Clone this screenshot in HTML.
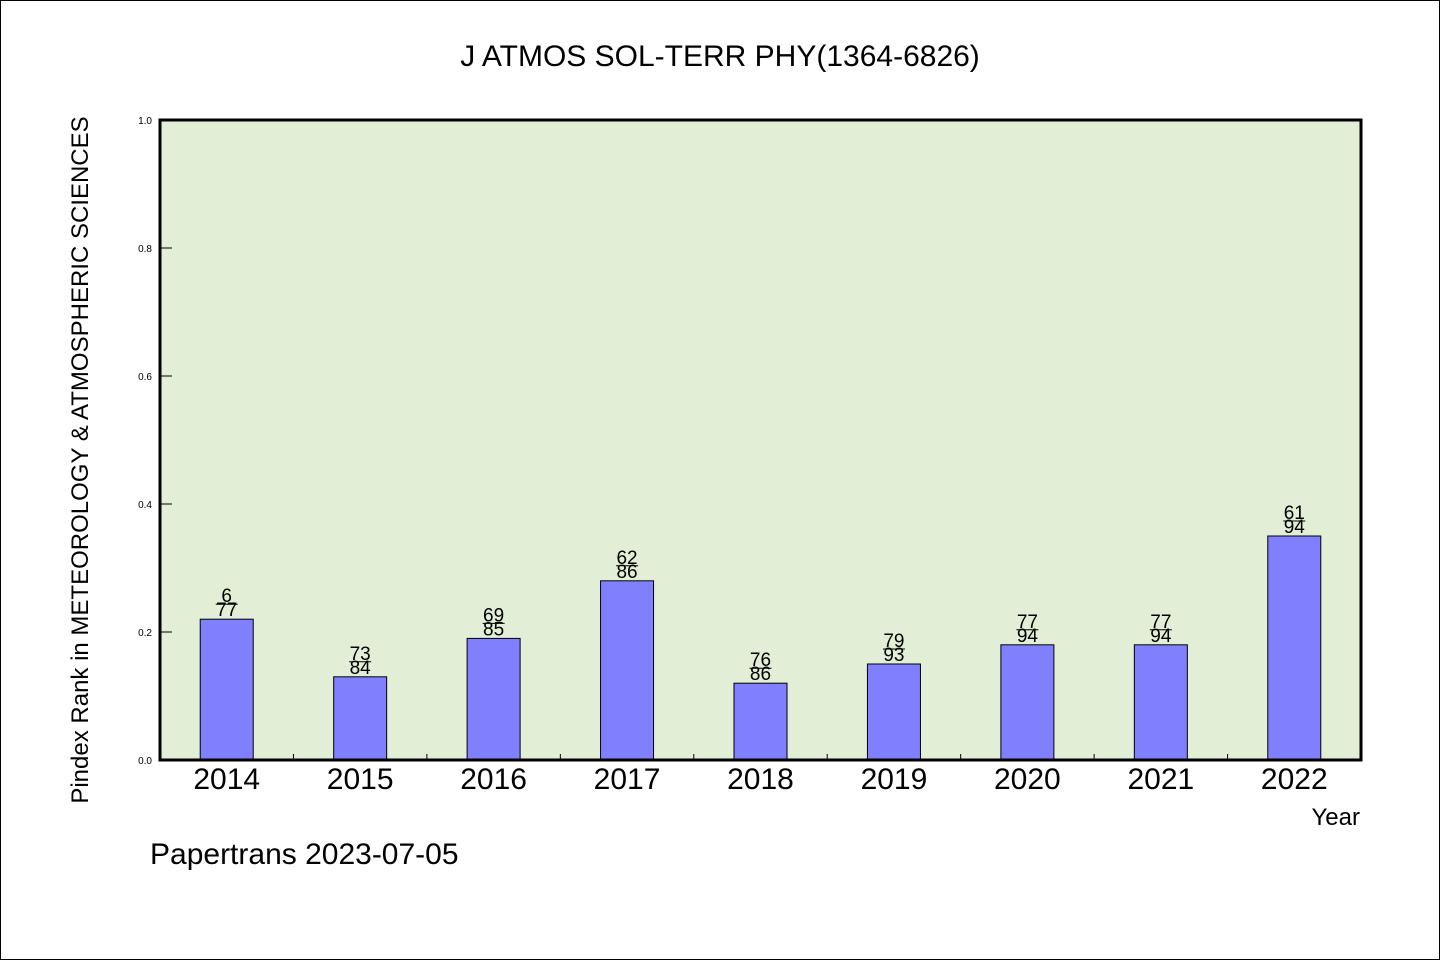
<!DOCTYPE html>
<html><head><meta charset="utf-8"><style>
body{margin:0;background:#fff}
svg text{font-family:"WenQuanYi Zen Hei","Liberation Sans",sans-serif;fill:#000}
</style></head><body>
<svg id="chart" width="1440" height="960" xmlns="http://www.w3.org/2000/svg">
<rect x="0.5" y="0.5" width="1439" height="959" fill="#fff" stroke="#000"/>
<text x="720" y="66" font-size="30" text-anchor="middle">J ATMOS SOL-TERR PHY(1364-6826)</text>
<rect x="160" y="120" width="1201" height="640" fill="#e2efd6"/>
<g id="marks"></g>
<rect x="160" y="120" width="1201" height="640" fill="none" stroke="#000" stroke-width="3"/>
<text transform="translate(88,460) rotate(-90)" font-size="24" text-anchor="middle">Pindex Rank in METEOROLOGY &amp; ATMOSPHERIC SCIENCES</text>
<text x="1360" y="825" font-size="24" text-anchor="end">Year</text>
<text x="150" y="864" font-size="30">Papertrans 2023-07-05</text>
</svg>
<script>
const categories=["2014","2015","2016","2017","2018","2019","2020","2021","2022"];
const values=[0.22,0.13,0.19,0.28,0.12,0.15,0.18,0.18,0.35];
const numerators=["6","73","69","62","76","79","77","77","61"];
const denominators=["77","84","85","86","86","93","94","94","94"];
const yTicks=[0,0.2,0.4,0.6,0.8,1.0];
const yTickLabels=["0.0","0.2","0.4","0.6","0.8","1.0"];
const L=160,R=1361,T=120,B=760;
const step=(R-L)/categories.length;
const xs=i=>L+step*(i+0.5);
const ys=v=>B-(v/1.0)*(B-T);
const g=document.getElementById('marks');
const NS="http://www.w3.org/2000/svg";
function mk(t,a){const e=document.createElementNS(NS,t);for(const k in a)e.setAttribute(k,a[k]);g.appendChild(e);return e;}
yTicks.forEach((v,i)=>{
 const l=mk('line',{x1:L,x2:L+12,y1:ys(v),y2:ys(v),stroke:'#000','stroke-width':1});
 
 
 const t=mk('text',{x:L-8,y:ys(v)+4,'font-size':10,'text-anchor':'end'});
 t.textContent=yTickLabels[i];
 
 
});
for(let i=1;i<categories.length;i++){
 const l=mk('line',{x1:L+step*i,x2:L+step*i,y1:B,y2:B-6,stroke:'#000','stroke-width':1});
 
 
}
categories.forEach((c,i)=>{
 const x=xs(i),y=ys(values[i]);
 const r=mk('rect',{x:x-26.5,y:y,width:53,height:B-y,fill:'#8080ff',stroke:'#000','stroke-width':1});
 
 
 const n=mk('text',{x:x,y:y-17,'font-size':19,'text-anchor':'middle'});
 n.textContent=numerators[i];
 
 
 const fl=mk('line',{x1:x-11,x2:x+11,y1:y-15,y2:y-15,stroke:'#000','stroke-width':1});
 
 
 const d=mk('text',{x:x,y:y-3,'font-size':19,'text-anchor':'middle'});
 d.textContent=denominators[i];
 
 
 const t=mk('text',{x:x,y:789,'font-size':30,'text-anchor':'middle'});
 t.textContent=c;
 
 
});
</script>
</body></html>
